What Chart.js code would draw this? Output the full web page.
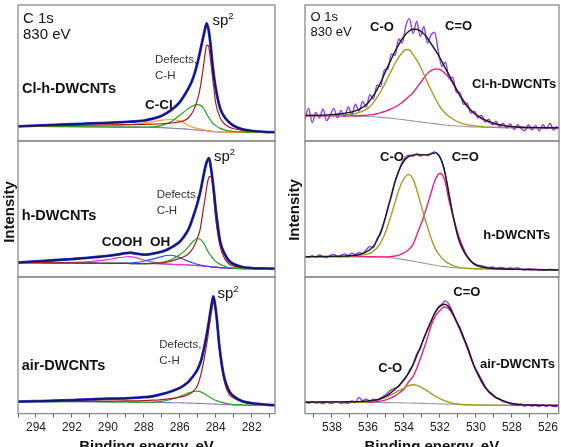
<!DOCTYPE html>
<html>
<head>
<meta charset="utf-8">
<script src="https://cdn.jsdelivr.net/npm/chart.js@4.4.1/dist/chart.umd.min.js"></script>
<style>
body { margin: 0; width: 561px; height: 447px; overflow: hidden; background: #fff; position: relative;
       font-family: Arial, "Liberation Sans", sans-serif; }
.pane { position: absolute; }
.lbl { position: absolute; line-height: 1; white-space: nowrap; color: #111; }
.b { font-weight: bold; }
.sup { position: relative; top: -6px; font-size: 9.5px; }
.def { font-size: 11.5px; line-height: 16px; color: #333; }
.ylab { position: absolute; width: 80px; text-align: center; font-weight: bold; font-size: 15px; line-height: 16px;
        transform: rotate(-90deg); color: #111; }
</style>
</head>
<body>
<div class="pane" style="left:0;top:0;width:280px;height:142px"><canvas id="c1"></canvas></div>
<div class="pane" style="left:0;top:140px;width:280px;height:138px"><canvas id="c2"></canvas></div>
<div class="pane" style="left:0;top:276px;width:280px;height:180px"><canvas id="c3"></canvas></div>
<div class="pane" style="left:284px;top:0;width:277px;height:142px"><canvas id="c4"></canvas></div>
<div class="pane" style="left:284px;top:140px;width:277px;height:138px"><canvas id="c5"></canvas></div>
<div class="pane" style="left:284px;top:276px;width:277px;height:180px"><canvas id="c6"></canvas></div>

<!-- C 1s column -->
<div class="lbl" style="left:23px;top:10px;font-size:15px">C 1s</div>
<div class="lbl" style="left:23px;top:26.3px;font-size:15px">830 eV</div>
<div class="lbl" style="left:212.5px;top:11.8px;font-size:15px">sp<span class="sup">2</span></div>
<div class="lbl def" style="left:155px;top:51px">Defects,<br>C-H</div>
<div class="lbl b" style="left:22px;top:81.4px;font-size:14.5px">Cl-h-DWCNTs</div>
<div class="lbl b" style="left:145px;top:98.2px;font-size:13.5px">C-Cl</div>

<div class="lbl" style="left:214px;top:147.6px;font-size:15px">sp<span class="sup">2</span></div>
<div class="lbl def" style="left:156.7px;top:186.3px">Defects,<br>C-H</div>
<div class="lbl b" style="left:21.7px;top:208.1px;font-size:14.5px">h-DWCNTs</div>
<div class="lbl b" style="left:101.7px;top:234.9px;font-size:13.5px">COOH</div>
<div class="lbl b" style="left:150px;top:234.9px;font-size:13.5px">OH</div>
<div class="ylab" style="left:-31px;top:204px">Intensity</div>

<div class="lbl" style="left:217.5px;top:285px;font-size:15px">sp<span class="sup">2</span></div>
<div class="lbl def" style="left:159.3px;top:336.3px">Defects,<br>C-H</div>
<div class="lbl b" style="left:21.7px;top:358.1px;font-size:14.5px">air-DWCNTs</div>

<!-- O 1s column -->
<div class="lbl" style="left:310.5px;top:10px;font-size:13px">O 1s</div>
<div class="lbl" style="left:310.5px;top:25px;font-size:13px">830 eV</div>
<div class="lbl b" style="left:370px;top:20px;font-size:13px">C-O</div>
<div class="lbl b" style="left:445px;top:19px;font-size:13px">C=O</div>
<div class="lbl b" style="left:472px;top:76.6px;font-size:13px">Cl-h-DWCNTs</div>

<div class="lbl b" style="left:380px;top:150px;font-size:13px">C-O</div>
<div class="lbl b" style="left:451.7px;top:150px;font-size:13px">C=O</div>
<div class="lbl b" style="left:483.3px;top:228.3px;font-size:13px">h-DWCNTs</div>
<div class="ylab" style="left:253.5px;top:202px">Intensity</div>

<div class="lbl b" style="left:453.3px;top:285px;font-size:13px">C=O</div>
<div class="lbl b" style="left:378.3px;top:360.6px;font-size:13px">C-O</div>
<div class="lbl b" style="left:480px;top:356.6px;font-size:13px">air-DWCNTs</div>

<script>
// ---- C 1s, Cl-h-DWCNTs ----
var cEnergyCl = [295, 294, 293, 292, 291, 290, 289, 288, 287.5, 287, 286.5, 286, 285.75, 285.5, 285.25, 285,
                 284.85, 284.7, 284.6, 284.5, 284.4, 284.3, 284.15, 284, 283.75, 283.5, 283.25, 283, 282.5, 282, 281, 280.7];
var cClTotal  = [10.8, 11.3, 11.8, 12.3, 12.9, 13.4, 14.0, 15.0, 16.4, 18.6, 22.5, 28.5, 33.5, 39, 46.5, 58,
                 67, 76, 82, 86.5, 82, 72.5, 53, 39, 24, 17.5, 13.8, 11.2, 8.6, 7.4, 6.6, 6.4];
var cClSp2    = [10.8, 11.0, 11.2, 11.4, 11.6, 11.8, 12.0, 12.2, 12.4, 12.7, 13.2, 14.1, 15.0, 17.3, 22, 31,
                 40, 53, 63, 70.5, 70, 61, 44, 28, 17, 12.5, 10.2, 9, 7.8, 7.2, 6.6, 6.4];
var cClDefect = [10.8, 10.7, 10.6, 10.5, 10.4, 10.3, 10.2, 10.2, 10.4, 11.5, 14, 19, 21.5, 24, 26, 26.7,
                 26.2, 24.5, 22.5, 19.8, 17.5, 15.5, 13, 11.3, 9.3, 8.2, 7.4, 7, 6.7, 6.5, 6.4, 6.4];
var cClCCl    = [10.8, 10.8, 10.7, 10.7, 10.8, 11.0, 11.8, 13.2, 14.3, 15.3, 15.8, 14.8, 13.2, 11.2, 10, 9.2,
                 8.8, 8.4, 8.1, 7.8, 7.6, 7.4, 7.1, 6.9, 6.7, 6.6, 6.5, 6.5, 6.4, 6.4, 6.4, 6.4];
var cClBack   = [10.8, 10.8, 10.7, 10.6, 10.5, 10.4, 10.3, 10.1, 10.0, 9.8, 9.5, 9.1, 8.9, 8.6, 8.3, 8.0,
                 7.8, 7.6, 7.5, 7.3, 7.2, 7.1, 6.9, 6.8, 6.7, 6.6, 6.5, 6.5, 6.4, 6.4, 6.4, 6.4];

// ---- C 1s, h-DWCNTs ----
var cEnergyH = [295, 294, 293, 292, 291, 290.5, 290, 289.5, 289, 288.75, 288.5, 288, 287.5, 287, 286.75, 286.5,
                286.25, 286, 285.75, 285.5, 285.25, 285, 284.85, 284.7, 284.6, 284.5, 284.37, 284.25, 284.1, 284,
                283.75, 283.5, 283.25, 283, 282.5, 282, 281, 280.7];
var cHTotal  = [10.6, 11.5, 12.3, 13.2, 14.2, 14.9, 15.5, 16.4, 17.5, 17.9, 17.4, 16.4, 17.2, 18.6, 19.8, 21.5,
                23.5, 26, 30, 35.5, 44.5, 55, 63, 73, 79.5, 84.5, 87.3, 79, 63, 50,
                26, 17, 11.8, 9.5, 7.3, 6.6, 6.2, 6.1];
var cHSp2    = [10.6, 10.5, 10.4, 10.3, 10.2, 10.1, 10.1, 10.0, 10.0, 9.9, 9.9, 9.9, 10.0, 10.4, 10.9, 11.6,
                12.6, 13.6, 15, 17.3, 21.5, 29, 36, 49, 57, 66, 73.5, 74, 58, 43,
                22.5, 13.5, 9.6, 8, 6.9, 6.4, 6.1, 6.1];
var cHDefect = [10.6, 10.5, 10.4, 10.3, 10.2, 10.1, 10.1, 10.0, 10.0, 9.9, 9.9, 9.8, 10.0, 10.7, 11.5, 12.6,
                14.3, 16.3, 19, 22.5, 26.3, 28.3, 27.5, 25.5, 23.5, 20.5, 17.5, 15.3, 12.8, 11.5,
                9.3, 8, 6.9, 6.5, 6.2, 6.1, 6.1, 6.1];
var cHOH     = [10.6, 10.5, 10.4, 10.3, 10.2, 10.1, 10.1, 10.1, 10.2, 10.3, 10.6, 11.6, 13.2, 15, 15.8, 16,
                15.4, 14.2, 12.8, 11.5, 10.3, 9.3, 8.8, 8.4, 8.1, 7.9, 7.7, 7.5, 7.3, 7.2,
                6.9, 6.7, 6.5, 6.4, 6.2, 6.1, 6.1, 6.1];
var cHCOOH   = [10.6, 10.6, 10.6, 10.8, 11.4, 12, 12.8, 14, 14.9, 15, 14.4, 12.5, 11, 10.1, 9.6, 9.4,
                9.2, 9.1, 9.0, 8.8, 8.6, 8.4, 8.3, 8.1, 8.0, 7.9, 7.7, 7.5, 7.3, 7.2,
                6.9, 6.7, 6.5, 6.4, 6.2, 6.1, 6.1, 6.1];
var cHBack   = [10.6, 10.5, 10.4, 10.3, 10.2, 10.1, 10.1, 10.0, 10.0, 9.9, 9.9, 9.8, 9.7, 9.5, 9.4, 9.3,
                9.2, 9.1, 9.0, 8.8, 8.6, 8.4, 8.3, 8.1, 8.0, 7.9, 7.7, 7.5, 7.3, 7.2,
                6.9, 6.7, 6.5, 6.4, 6.2, 6.1, 6.1, 6.1];

// ---- C 1s, air-DWCNTs ----
var cEnergyAir = [295, 294, 293, 292, 291, 290, 289, 288, 287.5, 287, 286.5, 286, 285.75, 285.5, 285.25, 285,
                  284.8, 284.6, 284.45, 284.3, 284.2, 284.13, 284.05, 283.95, 283.8, 283.65, 283.5, 283.25,
                  283, 282.5, 282, 281, 280.7];
var cAirTotal  = [8.8, 9.1, 9.4, 9.8, 10.4, 10.9, 11.1, 12, 12.7, 14.2, 16.2, 18.8, 20.8, 23.5, 27.5, 32.5,
                  39.5, 51, 61.5, 74, 82, 85.8, 81, 71, 50, 35, 25, 16.5, 12.7, 9, 7.6, 6.3, 6.1];
var cAirSp2    = [8.8, 8.8, 8.9, 9.0, 9.1, 9.2, 9.3, 9.5, 9.8, 10.3, 11, 12, 12.8, 14, 16.3, 21,
                  30, 43, 55, 69, 77, 81, 79, 69, 48, 33.5, 22.5, 14, 11.5, 8.5, 7.3, 6.3, 6.1];
var cAirDefect = [8.8, 8.8, 8.8, 8.7, 8.7, 8.6, 8.5, 8.3, 8.4, 9, 10.3, 12.5, 13.8, 15.2, 16.2, 16.4,
                  15.7, 14.3, 13, 11.8, 11, 10.5, 10, 9.5, 8.8, 8.2, 7.7, 7.0, 6.6, 6.3, 6.2, 6.1, 6.1];
var cAirBack   = [8.8, 8.8, 8.8, 8.7, 8.7, 8.6, 8.5, 8.3, 8.2, 8.1, 8.0, 7.9, 7.8, 7.7, 7.6, 7.5,
                  7.4, 7.3, 7.2, 7.1, 7.0, 7.0, 6.9, 6.9, 6.8, 6.7, 6.6, 6.5, 6.4, 6.3, 6.2, 6.1, 6.1];

// ---- O 1s fits (shared energy grid) ----
var oEnergy = [539.5, 539, 538.5, 538, 537.5, 537, 536.5, 536, 535.75, 535.5, 535.25, 535, 534.75, 534.5, 534.25, 534,
               533.75, 533.5, 533.25, 533, 532.75, 532.5, 532.25, 532, 531.75, 531.5, 531.25, 531, 530.75, 530.5,
               530.25, 530, 529.5, 529, 528.5, 528, 527.5, 527, 526.5, 526, 525.4];

var oClFit  = [18.7, 18.8, 19, 19.4, 20, 21, 23.2, 28, 32.5, 37.8, 44.5, 52, 59, 66, 72, 77,
               80.5, 82.2, 82, 80, 76.5, 71.5, 66.5, 61, 54.5, 48.5, 42, 35.5, 30, 25.5,
               22, 19.5, 15.5, 13, 11.5, 10.6, 10.1, 9.9, 9.8, 9.7, 9.7];
var oClCO   = [18.7, 18.7, 18.7, 18.8, 19, 19.5, 20.8, 24.2, 27.5, 32, 37.5, 44, 50.5, 57, 62.5, 66.5,
               67.3, 63.5, 58.5, 52, 44.5, 37.5, 31, 25, 21, 18, 15.8, 14, 12.8, 12,
               11.5, 11, 10.4, 10.1, 9.9, 9.8, 9.8, 9.7, 9.7, 9.7, 9.7];
var oClCdO  = [18.7, 18.7, 18.6, 18.6, 18.5, 18.5, 18.6, 19, 19.4, 20, 21, 22, 23.5, 25, 27, 29.5,
               32.5, 35.5, 40, 44.5, 49, 51.8, 53, 52.5, 50, 46.5, 41.5, 36.5, 31, 26,
               22, 19, 15, 12.7, 11.3, 10.5, 10.1, 9.9, 9.8, 9.7, 9.7];
var oClBack = [18.7, 18.7, 18.6, 18.6, 18.5, 18.4, 18.2, 18, 17.8, 17.6, 17.4, 17.1, 16.8, 16.4, 16, 15.6,
               15.2, 14.7, 14.3, 13.8, 13.4, 13, 12.6, 12.2, 11.8, 11.5, 11.2, 11, 10.8, 10.6,
               10.4, 10.3, 10.1, 9.9, 9.8, 9.8, 9.7, 9.7, 9.7, 9.7, 9.7];

var oHFit  = [15, 15, 15.1, 15.2, 15.3, 15.6, 16.5, 19.2, 22, 27, 35, 45.5, 58, 70, 79.5, 85.5,
              88.5, 89.8, 90, 89.8, 89.8, 90.5, 91.3, 88, 78, 60, 43, 29, 20.5, 14.8,
              11, 8.8, 7, 6.3, 5.9, 5.7, 5.6, 5.5, 5.4, 5.3, 5.2];
var oHCO   = [15, 15, 15, 15, 15.1, 15.3, 15.8, 17, 18.5, 21.5, 26.5, 34, 44, 55, 65.5, 72.5,
              75.3, 72, 62, 50, 39, 28.5, 20.5, 15.5, 12, 9.8, 8.2, 7.3, 6.7, 6.4,
              6.2, 6.1, 6, 5.9, 5.8, 5.7, 5.6, 5.5, 5.4, 5.3, 5.2];
var oHCdO  = [15, 15, 15, 15, 15, 15, 15, 14.9, 14.9, 14.8, 14.8, 14.8, 15, 15.4, 16.3, 17.8,
              20, 24, 32.5, 41, 51, 62, 72, 76.3, 71.5, 56, 43, 31.5, 22.5, 15.5,
              11, 8.5, 6.7, 6.1, 5.9, 5.7, 5.6, 5.5, 5.4, 5.3, 5.2];
var oHBack = [15, 15, 15, 15, 15, 15, 15, 14.9, 14.9, 14.8, 14.7, 14.5, 14.2, 13.8, 13.3, 12.8,
              12.2, 11.6, 11, 10.4, 9.8, 9.2, 8.6, 8.1, 7.6, 7.2, 6.9, 6.6, 6.4, 6.2,
              6.1, 6, 5.9, 5.8, 5.7, 5.7, 5.6, 5.5, 5.4, 5.3, 5.2];

var oAirFit  = [8.3, 8.4, 8.5, 8.6, 8.6, 8.7, 8.8, 9.2, 9.6, 10.2, 11.2, 12.8, 15, 17.8, 21, 25,
                29.5, 35.5, 43.5, 51.5, 59.5, 67.5, 74.5, 78.5, 80, 78, 72.5, 65.5, 58, 49.5,
                40, 32, 19.5, 12.8, 9.5, 7.4, 6.6, 6.3, 6.1, 6, 5.9];
var oAirCO   = [8.3, 8.3, 8.3, 8.3, 8.3, 8.3, 8.3, 8.7, 9.2, 9.9, 10.8, 12, 13.5, 15.2, 17, 18.8,
                20.4, 21.1, 20.5, 19, 17, 14.8, 12.7, 10.9, 9.5, 8.4, 7.5, 7, 6.7, 6.5,
                6.4, 6.3, 6.2, 6.1, 6.1, 6, 6, 6, 5.9, 5.9, 5.9];
var oAirCdO  = [8.3, 8.3, 8.3, 8.3, 8.3, 8.3, 8.3, 8.2, 8.4, 8.9, 9.3, 10, 11.3, 13, 15.3, 18,
                23, 27, 34.5, 43.5, 53, 64, 71.5, 75.5, 78.2, 76.5, 71.5, 64.5, 57, 48.5,
                39.5, 31.5, 19, 12.5, 9.3, 7.3, 6.5, 6.2, 6.1, 6, 5.9];
var oAirBack = [8.3, 8.3, 8.3, 8.3, 8.3, 8.3, 8.3, 8.2, 8.2, 8.1, 8.1, 8, 8, 7.9, 7.9, 7.8,
                7.8, 7.7, 7.6, 7.5, 7.4, 7.3, 7.2, 7.1, 7, 6.9, 6.8, 6.7, 6.6, 6.5,
                6.4, 6.3, 6.2, 6.1, 6.1, 6, 6, 6, 5.9, 5.9, 5.9];

// ---- O 1s measured spectra ----
var oRawEnergy = [539.5, 539.3, 539.1, 538.9, 538.7, 538.5, 538.3, 538.1, 537.9, 537.7, 537.5, 537.3, 537.1, 536.9,
                  536.7, 536.5, 536.3, 536.1, 535.9, 535.7, 535.5, 535.3, 535.1, 534.9, 534.7, 534.5, 534.3, 534.1,
                  533.9, 533.7, 533.5, 533.3, 533.1, 532.9, 532.7, 532.5, 532.3, 532.1, 531.9, 531.7, 531.5, 531.3,
                  531.1, 530.9, 530.7, 530.5, 530.3, 530.1, 529.9, 529.7, 529.5, 529.3, 529.1, 528.9, 528.7, 528.5,
                  528.3, 528.1, 527.9, 527.7, 527.5, 527.3, 527.1, 526.9, 526.7, 526.5, 526.3, 526.1, 525.9, 525.7, 525.5];
var oClRaw  = [16, 24, 13.5, 21, 17, 23.5, 15, 19, 24, 17, 22.5, 18, 25, 19.5, 27, 22, 29, 25, 34, 31,
               41, 40, 52, 53, 64, 63, 75, 72, 85, 90, 79, 88, 77, 84, 72, 78, 80, 66, 55, 58,
               46, 47, 36, 35.5, 27, 28, 20.5, 22, 17, 19, 14, 16, 12, 14.5, 10.5, 13, 9.5, 12.5, 8.5, 12,
               9, 7.5, 12, 8, 11.5, 7.5, 12, 9, 13, 8, 11];
var oHRaw   = [15.3, 14.4, 15.6, 14.7, 16.2, 15, 14.2, 15.8, 16.5, 15, 15.9, 17, 15.8, 17.5, 16.4, 18, 17.2, 20, 22.5, 21.5,
               28, 32, 40.5, 51, 59.5, 70.5, 77.5, 84.5, 88.5, 89.5, 88.8, 90.6, 89, 90.2, 89.2, 90.8, 92, 89.5, 85, 74.5,
               61, 46, 35.5, 25, 19.8, 15.5, 12.2, 9.8, 8.7, 8.3, 7.6, 6.9, 7.4, 6.5, 7, 6.8, 6.1, 6.9, 6.2, 6.8,
               5.6, 5.1, 6, 5.4, 5.8, 5, 5.6, 5.2, 5.7, 5, 5.4];
var oAirRaw = [8.8, 7.6, 8.9, 7.8, 8.1, 7.3, 8.4, 7.5, 7.9, 8.8, 7.4, 8, 7.6, 9.2, 8.5, 11.8, 9.5, 10.8, 9, 10.5,
               9.8, 11.5, 13, 15.2, 17.5, 18.5, 19.8, 23, 26.2, 31.5, 36, 43.5, 47.2, 55.5, 61.8, 67, 73.5, 77.8, 80, 82.5,
               80, 74, 67.5, 63, 55.2, 50, 42.8, 34.5, 30, 25.3, 20.2, 16.5, 14.6, 11.6, 10.9, 8.8, 8.3, 7.1, 6.4, 5.9,
               7, 5.4, 6.6, 5.5, 6.3, 5.2, 6.4, 5.1, 6.3, 5.4, 5.2];

Chart.defaults.font.family = 'Arial, "Liberation Sans", sans-serif';

var frame = {
    id: 'frame',
    afterDraw: function(chart) {
        var a = chart.chartArea, ctx = chart.ctx;
        ctx.save();
        ctx.strokeStyle = '#8a8a8a';
        ctx.lineWidth = 1.3;
        ctx.strokeRect(a.left, a.top, a.right - a.left, a.bottom - a.top);
        ctx.restore();
    }
};

function line(xs, ys, color, width, order) {
    return {
        data: xs.map(function(x, i) { return {x: x, y: ys[i]}; }),
        borderColor: color, borderWidth: width, order: order,
        cubicInterpolationMode: 'monotone', fill: false, pointRadius: 0
    };
}

function panel(id, xmin, xmax, sets, pad, bottom) {
    var x = {type: 'linear', reverse: true, min: xmin, max: xmax, display: false};
    if (bottom) {
        x = {
            type: 'linear', reverse: true, min: xmin, max: xmax, display: true,
            grid: {display: true, drawOnChartArea: false, drawTicks: true, tickLength: 4, color: '#666'},
            border: {display: false},
            ticks: {
                stepSize: 1, autoSkip: false, maxRotation: 0, includeBounds: false, padding: 3,
                color: '#222', font: {size: 12},
                callback: function(v) { return Math.round(v) % 2 === 0 ? String(Math.round(v)) : ''; }
            },
            title: {display: true, text: 'Binding energy, eV', color: '#111',
                    font: {size: 15, weight: 'bold'}, padding: {top: 0, bottom: 0}}
        };
    }
    return new Chart(document.getElementById(id), {
        type: 'line',
        data: {datasets: sets},
        options: {
            animation: false, responsive: true, maintainAspectRatio: false,
            layout: {padding: pad},
            plugins: {legend: {display: false}, tooltip: {enabled: false}},
            scales: {x: x, y: {min: 0, max: 100, display: false}}
        },
        plugins: [frame]
    });
}

var padL = function(t, b) { return {left: 18, right: 5, top: t, bottom: b}; };
var padR = function(t, b) { return {left: 21, right: 2, top: t, bottom: b}; };

panel('c1', 280.7, 295, [
    line(cEnergyCl, cClTotal, '#14146e', 1.8, 0),
    line(cEnergyCl, cClSp2, '#a81c1c', 1.2, 1),
    line(cEnergyCl, cClDefect, '#26a026', 1.2, 2),
    line(cEnergyCl, cClCCl, '#ff9a2e', 1.2, 3),
    line(cEnergyCl, cClBack, '#8c78b4', 1.1, 4),
    line(cEnergyCl, cClTotal, '#3344ff', 2.8, 5)
], padL(5, 1), false);

panel('c2', 280.7, 295, [
    line(cEnergyH, cHTotal, '#14146e', 1.8, 0),
    line(cEnergyH, cHSp2, '#a81c1c', 1.2, 1),
    line(cEnergyH, cHDefect, '#26a026', 1.2, 2),
    line(cEnergyH, cHOH, '#3348ff', 1.2, 3),
    line(cEnergyH, cHCOOH, '#ff2bd6', 1.2, 3),
    line(cEnergyH, cHBack, '#8c78b4', 1.1, 4),
    line(cEnergyH, cHTotal, '#3344ff', 2.8, 5)
], padL(1, 1), false);

panel('c3', 280.7, 295, [
    line(cEnergyAir, cAirTotal, '#14146e', 1.8, 0),
    line(cEnergyAir, cAirSp2, '#a81c1c', 1.2, 1),
    line(cEnergyAir, cAirDefect, '#26a026', 1.2, 2),
    line(cEnergyAir, cAirBack, '#8c78b4', 1.1, 4),
    line(cEnergyAir, cAirTotal, '#3344ff', 2.8, 5)
], padL(1, 0), true);

panel('c4', 525.4, 539.5, [
    line(oEnergy, oClFit, '#1a1a1a', 1.4, 0),
    line(oEnergy, oClCO, '#a0a020', 1.4, 2),
    line(oEnergy, oClCdO, '#f01c7c', 1.4, 2),
    line(oEnergy, oClBack, '#9a9a9a', 1.1, 3),
    line(oRawEnergy, oClRaw, '#8e3cf0', 1.4, 1)
], padR(5, 1), false);

panel('c5', 525.4, 539.5, [
    line(oEnergy, oHFit, '#1a1a1a', 1.4, 0),
    line(oEnergy, oHCO, '#a0a020', 1.4, 2),
    line(oEnergy, oHCdO, '#f01c7c', 1.4, 2),
    line(oEnergy, oHBack, '#9a9a9a', 1.1, 3),
    line(oRawEnergy, oHRaw, '#8e3cf0', 1.4, 1)
], padR(1, 1), false);

panel('c6', 525.4, 539.5, [
    line(oEnergy, oAirFit, '#1a1a1a', 1.4, 0),
    line(oEnergy, oAirCO, '#a0a020', 1.4, 2),
    line(oEnergy, oAirCdO, '#f01c7c', 1.4, 2),
    line(oEnergy, oAirBack, '#9a9a9a', 1.1, 3),
    line(oRawEnergy, oAirRaw, '#8e3cf0', 1.4, 1)
], padR(1, 0), true);
</script>
</body>
</html>
